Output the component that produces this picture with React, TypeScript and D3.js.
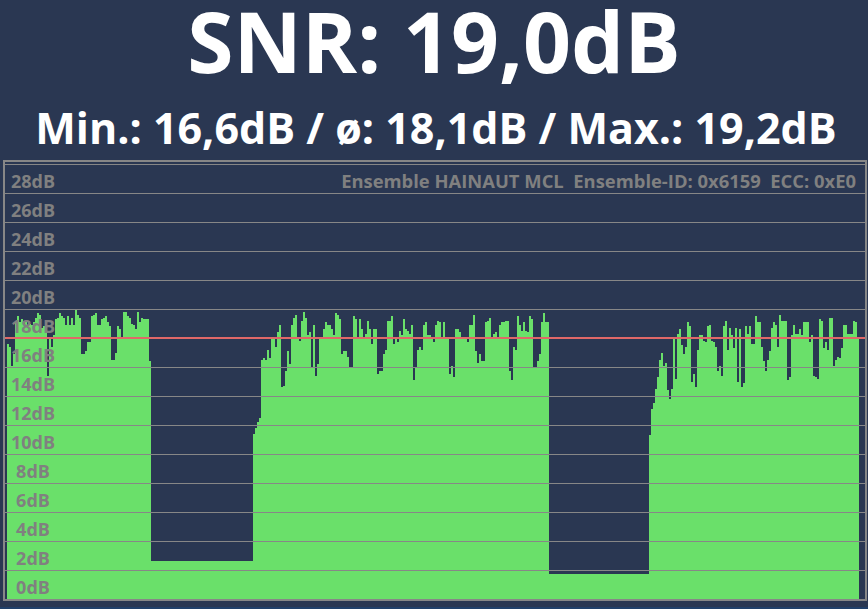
import React from "react";
import * as d3 from "d3";

const titleText = "SNR: 19,0dB";
const statsText = "Min.: 16,6dB / ø: 18,1dB / Max.: 19,2dB";
const ensembleText = "Ensemble HAINAUT MCL  Ensemble-ID: 0x6159  ECC: 0xE0";
const averageValue = 18.1;
const gridTicks = [2, 4, 6, 8, 10, 12, 14, 16, 18, 20, 22, 24, 26, 28, 30];
const labelTicks = [0, 2, 4, 6, 8, 10, 12, 14, 16, 18, 20, 22, 24, 26, 28];

const segmentA = [
  17.6, 17.4, 16.1, 16.9, 19.1, 19.5, 19.1, 19.3, 18.9, 19.1,
  18.9, 19.0, 18.9, 19.1, 19.4, 19.7, 19.6, 18.7, 18.8, 18.5,
  15.4, 18.1, 17.4, 18.2, 19.3, 19.4, 19.7, 19.5, 19.4, 18.9,
  19.5, 18.9, 19.4, 18.9, 19.9, 19.6, 19.4, 16.9, 16.9, 17.1,
  17.7, 17.7, 19.5, 19.6, 19.7, 18.9, 18.9, 19.3, 19.4, 19.5,
  19.1, 18.8, 16.5, 16.5, 17.0, 18.8, 18.6, 18.1, 19.8, 19.8,
  19.5, 19.4, 19.0, 18.9, 18.6, 19.8, 19.1, 19.4, 19.3, 19.3,
  19.3, 16.4,
];

const gapA = [
  2.6, 2.6, 2.6, 2.6, 2.6, 2.6, 2.6, 2.6, 2.6, 2.6,
  2.6, 2.6, 2.6, 2.6, 2.6, 2.6, 2.6, 2.6, 2.6, 2.6,
  2.6, 2.6, 2.6, 2.6, 2.6, 2.6, 2.6, 2.6, 2.6, 2.6,
  2.6, 2.6, 2.6, 2.6, 2.6, 2.6, 2.6, 2.6, 2.6, 2.6,
  2.6, 2.6, 2.6, 2.6, 2.6, 2.6, 2.6, 2.6, 2.6, 2.6,
  2.6,
];

const rampA = [11.4, 11.8, 12.2, 12.5];

const segmentB = [
  16.5, 16.6, 16.5, 17.2, 16.6, 18.0, 18.0, 17.4, 18.4, 18.9,
  14.6, 14.7, 15.7, 17.1, 16.2, 18.9, 19.4, 19.6, 18.0, 17.8,
  19.2, 19.8, 19.4, 18.2, 18.4, 16.0, 18.9, 15.4, 16.2, 18.1,
  18.1, 18.6, 19.1, 18.9, 18.9, 18.6, 18.2, 19.7, 19.6, 19.3,
  16.9, 17.1, 17.1, 16.7, 16.0, 16.0, 19.5, 19.3, 18.0, 19.3,
  18.6, 18.1, 18.3, 19.2, 18.6, 17.6, 18.6, 18.6, 15.5, 15.7,
  15.7, 16.9, 17.2, 19.2, 19.2, 19.5, 17.6, 18.0, 17.7, 18.5,
  18.2, 19.3, 18.6, 18.5, 18.3, 18.9, 15.1, 15.9, 17.2, 17.4,
  17.2, 18.9, 19.1, 18.2, 18.2, 18.0, 17.7, 18.9, 19.2, 19.1,
  18.1, 19.1, 18.1, 18.1, 15.5, 16.1, 15.3, 18.6, 18.6, 18.4,
  18.0, 18.1, 18.1, 17.7, 18.9, 18.9, 19.6, 17.1, 16.3, 16.9,
  16.4, 16.4, 19.1, 19.2, 19.4, 18.1, 18.3, 18.4, 18.1, 18.9,
  19.1, 19.1, 19.2, 19.2, 15.7, 15.1, 17.4, 17.2, 19.5, 18.9,
  18.5, 19.1, 18.5, 18.4, 19.5, 19.3, 16.0, 16.0, 16.4, 16.9,
  19.1, 19.7, 19.1, 19.1,
];

const gapB = [
  1.75, 1.75, 1.75, 1.75, 1.75, 1.75, 1.75, 1.75, 1.75, 1.75,
  1.75, 1.75, 1.75, 1.75, 1.75, 1.75, 1.75, 1.75, 1.75, 1.75,
  1.75, 1.75, 1.75, 1.75, 1.75, 1.75, 1.75, 1.75, 1.75, 1.75,
  1.75, 1.75, 1.75, 1.75, 1.75, 1.75, 1.75, 1.75, 1.75, 1.75,
  1.75, 1.75, 1.75, 1.75, 1.75, 1.75, 1.75, 1.75, 1.75, 1.75,
];

const segmentC = [
  11.3, 13.1, 13.5, 14.5, 15.3, 16.5, 17.0, 16.1, 16.3, 14.4,
  13.8, 14.5, 17.9, 15.2, 18.3, 18.6, 17.5, 16.9, 17.4, 19.1,
  18.8, 15.0, 15.5, 14.6, 17.2, 18.2, 18.2, 17.8, 17.7, 18.8,
  18.9, 17.8, 17.7, 17.4, 15.7, 16.1, 15.4, 18.8, 19.2, 17.2,
  18.7, 18.2, 17.3, 18.7, 15.0, 18.6, 14.6, 14.9, 18.8, 18.3,
  18.8, 17.6, 17.6, 19.5, 19.1, 19.1, 17.4, 16.4, 15.7, 16.5,
  17.1, 18.7, 19.1, 18.9, 17.4, 19.6, 19.2, 19.2, 19.2, 15.1,
  15.3, 18.2, 18.9, 18.3, 18.3, 18.6, 18.2, 19.1, 19.1, 19.1,
  17.7, 18.2, 15.4, 15.3, 15.2, 19.3, 19.2, 17.3, 17.7, 17.2,
  19.4, 19.4, 16.1, 16.5, 16.7, 16.6, 17.3, 18.9, 18.9, 18.3,
  18.3, 18.3, 19.2, 19.1, 18.0,
];

const snrValues = [...segmentA, ...gapA, ...rampA, ...segmentB, ...gapB, ...segmentC];

const W = 868;
const H = 609;
const BG = "#2a3752";
const GREEN = "#6ae06a";
const GRID = "#878787";
const LABEL = "#808080";
const RED = "#e06868";
const FONT = "'Open Sans', 'Noto Sans', sans-serif";

export default function App() {
  const x = d3
    .scaleBand<number>()
    .domain(d3.range(snrValues.length))
    .range([7, 859])
    .padding(0);
  const y = d3.scaleLinear().domain([0, 30]).range([599, 164]);

  return (
    <div style={{ position: "absolute", left: 0, top: 0, width: W, height: H }}>
      <svg width={W} height={H} style={{ display: "block" }}>
        <rect x={0} y={0} width={W} height={H} fill={BG} />
        <rect x={0} y={607} width={W} height={2} fill="#21406a" />
        <text
          x={W / 2}
          y={73}
          textAnchor="middle"
          fontFamily={FONT}
          fontWeight={700}
          fontSize={84}
          fill="#ffffff"
        >
          {titleText}
        </text>
        <text
          x={W / 2 + 2}
          y={144}
          textAnchor="middle"
          fontFamily={FONT}
          fontWeight={700}
          fontSize={43}
          fill="#ffffff"
        >
          {statsText}
        </text>
        <g shapeRendering="crispEdges">
          {snrValues.map((v, i) => (
            <rect
              key={i}
              x={x(i)}
              y={y(v)}
              width={x.bandwidth()}
              height={y(0) - y(v)}
              fill={GREEN}
            />
          ))}
        </g>
        <g shapeRendering="crispEdges">
          {gridTicks.map((t) => (
            <line
              key={t}
              x1={5}
              x2={865}
              y1={Math.round(y(t)) + 0.5}
              y2={Math.round(y(t)) + 0.5}
              stroke={GRID}
              strokeWidth={1}
            />
          ))}
          <rect x={5} y={y(averageValue)} width={860} height={2} fill={RED} />
        </g>
        {labelTicks.map((t) => (
          <text
            key={t}
            x={33}
            y={y(t) - 5}
            textAnchor="middle"
            fontFamily={FONT}
            fontWeight={700}
            fontSize={18}
            fill={LABEL}
          >
            {`${t}dB`}
          </text>
        ))}
        <text
          x={856}
          y={187.5}
          textAnchor="end"
          fontFamily={FONT}
          fontWeight={700}
          fontSize={18.4}
          fill={LABEL}
          style={{ whiteSpace: "pre" }}
        >
          {ensembleText}
        </text>
        <rect
          x={4}
          y={161}
          width={862}
          height={439}
          fill="none"
          stroke={GRID}
          strokeWidth={2}
          shapeRendering="crispEdges"
        />
      </svg>
    </div>
  );
}
